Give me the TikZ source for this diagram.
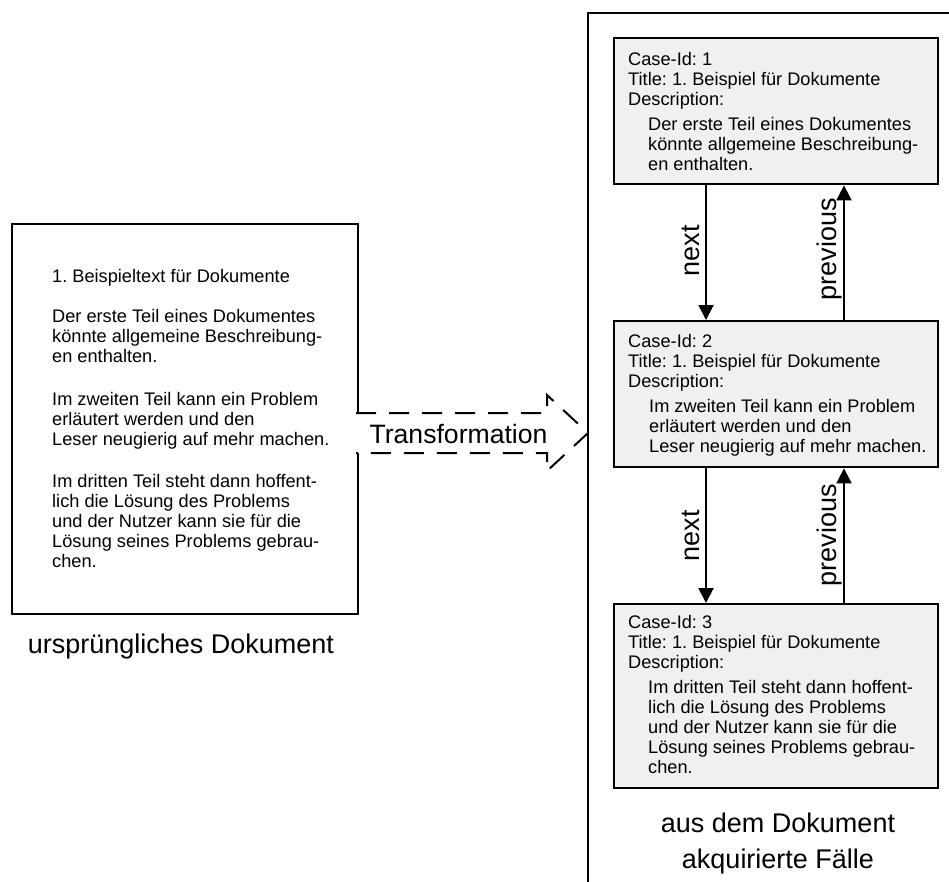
\documentclass[tikz,border=0pt]{standalone}
\usepackage{fontspec}
\setmainfont{Liberation Sans}
\usetikzlibrary{arrows.meta}
\definecolor{boxgray}{RGB}{240,240,240}
\frenchspacing
\begin{document}
\frenchspacing
\begin{tikzpicture}[x=1pt,y=-1pt,
  docbox/.style={draw, line width=2.2pt, minimum width=346pt, minimum height=390pt, anchor=north west, inner sep=0pt},
  casebox/.style={draw, fill=boxgray, line width=2.4pt, minimum width=324pt, anchor=north west, inner sep=0pt},
  body/.style={font=\fontsize{18.2}{20}\selectfont, align=left, inner sep=0pt, anchor=north west},
  biglabel/.style={font=\fontsize{27}{36}\selectfont, inner sep=0pt},
  link/.style={line width=2pt, -{Triangle[length=15pt,width=15pt]}},
  dashbody/.style={dash pattern=on 20pt off 13pt, line width=2pt}]
\useasboundingbox (0,0) rectangle (949,882);

% original document
\node[docbox] (doc) at (11,223) {};
\node[body] (doctext) at (52,268) {\rule{0pt}{14pt}1. Beispieltext für Dokumente\\[20pt]
Der erste Teil eines Dokumentes\\
könnte allgemeine Beschreibung-\\
en enthalten.\\[23pt]
Im zweiten Teil kann ein Problem\\
erläutert werden und den\\
Leser neugierig auf mehr machen.\\[22pt]
Im dritten Teil steht dann hoffent-\\
lich die Lösung des Problems\\
und der Nutzer kann sie für die\\
Lösung seines Problems gebrau-\\
chen.};
\node[biglabel, anchor=base] (lorig) at (181,653) {ursprüngliches Dokument};

% frame of the cases
\draw[line width=2.3pt] (588,882) -- (588,13) -- (949,13);

% transformation arrow
\coordinate (ta) at (356,413);
\coordinate (tb) at (547,413);
\coordinate (tc) at (547,395);
\coordinate (tip) at (588,433);
\coordinate (td) at (547,471);
\coordinate (te) at (547,453);
\coordinate (tf) at (356,453);
\fill[white] (354,413) -- (tb) -- (tc) -- (tip) -- (td) -- (te) -- (354,453) -- cycle;
\draw[dashbody] (ta) -- (tb) -- (tc) -- (tip) -- (td) -- (te) -- (tf);
\node[font=\fontsize{26.6}{30}\selectfont, anchor=base, inner sep=0pt] (tr) at (458.5,443) {Transformation};

% cases
\node[casebox, minimum height=146pt] (c1) at (613,37) {};
\node[body] (c1t) at (628,51) {\rule{0pt}{14pt}Case-Id: 1\\
Title: 1. Beispiel für Dokumente\\
Description:\\[5pt]
\hspace*{20pt}Der erste Teil eines Dokumentes\\
\hspace*{20pt}könnte allgemeine Beschreibung-\\
\hspace*{20pt}en enthalten.};

\node[casebox, minimum height=146pt] (c2) at (613,320) {};
\node[body] (c2t) at (628,333) {\rule{0pt}{14pt}Case-Id: 2\\
Title: 1. Beispiel für Dokumente\\
Description:\\[5pt]
\hspace*{21pt}Im zweiten Teil kann ein Problem\\
\hspace*{21pt}erläutert werden und den\\
\hspace*{21pt}Leser neugierig auf mehr machen.};

\node[casebox, minimum height=184pt] (c3) at (613,603) {};
\node[body] (c3t) at (628,614) {\rule{0pt}{14pt}Case-Id: 3\\
Title: 1. Beispiel für Dokumente\\
Description:\\[5pt]
\hspace*{20pt}Im dritten Teil steht dann hoffent-\\
\hspace*{20pt}lich die Lösung des Problems\\
\hspace*{20pt}und der Nutzer kann sie für die\\
\hspace*{20pt}Lösung seines Problems gebrau-\\
\hspace*{20pt}chen.};

% links
\coordinate (nx) at (706,0);
\coordinate (px) at (844,0);
\draw[link] (c1.south -| nx) -- (c2.north -| nx);
\draw[link] (c2.north -| px) -- (c1.south -| px);
\draw[link] (c2.south -| nx) -- (c3.north -| nx);
\draw[link] (c3.north -| px) -- (c2.south -| px);
\node[biglabel, rotate=90, anchor=base] (n1) at (699,251) {next};
\node[biglabel, rotate=90, anchor=base] (p1) at (836,249) {previous};
\node[biglabel, rotate=90, anchor=base] (n2) at (699,536) {next};
\node[biglabel, rotate=90, anchor=base] (p2) at (836,535) {previous};

% caption of the cases
\node[biglabel, anchor=base] (lc1) at (778,832) {aus dem Dokument};
\node[biglabel, anchor=base] (lc2) at (778,868) {akquirierte Fälle};
\end{tikzpicture}
\end{document}
